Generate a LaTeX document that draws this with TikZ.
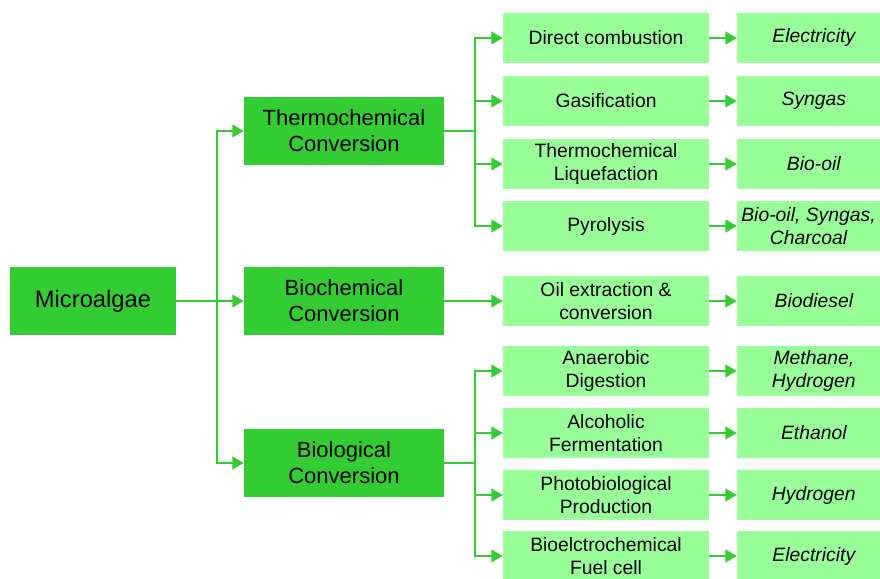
\documentclass[tikz,border=0pt]{standalone}
\usepackage{fontspec}
\setmainfont{Liberation Sans}
\usetikzlibrary{arrows.meta}
\definecolor{darkgr}{HTML}{33CC33}
\definecolor{lightgr}{HTML}{99FF99}

\begin{document}
\begin{tikzpicture}[x=0.75pt,y=-0.75pt,
  main/.style={fill=darkgr,minimum width=124.5pt,minimum height=51pt,align=center,font=\fontsize{17.8}{21}\selectfont},
  conv/.style={fill=darkgr,minimum width=150pt,minimum height=51pt,inner sep=0pt,align=center,font=\fontsize{16.5}{19.5}\selectfont},
  proc/.style={fill=lightgr,minimum width=154.5pt,minimum height=37.5pt,inner sep=0pt,align=center,font=\fontsize{14.5}{17.5}\selectfont},
  prod/.style={fill=lightgr,minimum width=107.25pt,minimum height=37.5pt,inner sep=0pt,align=center,font=\fontsize{14.5}{17.5}\selectfont\itshape},
  ln/.style={draw=darkgr,line width=1.4pt},
  arr/.style={ln,-{Triangle[length=8.5pt,width=9.5pt]}}]
\useasboundingbox (0,0) rectangle (880,578);

% source and conversion routes
\node[main] (micro) at (93,301) {Microalgae};
\node[conv] (thermo) at (344,131) {Thermochemical\\Conversion};
\node[conv] (bioch) at (344,301) {Biochemical\\Conversion};
\node[conv] (biol) at (344,463) {Biological\\Conversion};

% processes
\node[proc] (dc) at (606,38) {Direct combustion};
\node[proc] (gas) at (606,101) {Gasification};
\node[proc] (liq) at (606,164) {Thermochemical\\Liquefaction};
\node[proc] (pyr) at (606,226) {Pyrolysis};
\node[proc] (oil) at (606,301) {Oil extraction \&\\conversion};
\node[proc] (ana) at (606,371) {Anaerobic\\Digestion};
\node[proc] (alc) at (606,433) {Alcoholic\\Fermentation};
\node[proc] (pho) at (606,495) {Photobiological\\Production};
\node[proc] (bec) at (606,556) {Bioelctrochemical\\Fuel cell};

% products
\node[prod] (dcp) at (808.5,38) {\hspace{8pt}Electricity};
\node[prod] (gasp) at (808.5,101) {\hspace{8pt}Syngas};
\node[prod] (liqp) at (808.5,164) {\hspace{8pt}Bio-oil};
\node[prod] (pyrp) at (808.5,226) {Bio-oil, Syngas,\\Charcoal};
\node[prod] (oilp) at (808.5,301) {\hspace{8pt}Biodiesel};
\node[prod] (anap) at (808.5,371) {\hspace{8pt}Methane,\\\hspace{8pt}Hydrogen};
\node[prod] (alcp) at (808.5,433) {\hspace{8pt}Ethanol};
\node[prod] (phop) at (808.5,495) {\hspace{8pt}Hydrogen};
\node[prod] (becp) at (808.5,556) {\hspace{8pt}Electricity};

% connectors
\coordinate (s1) at (217,301);
\coordinate (s2) at (475,131);
\coordinate (s3) at (475,463);
\draw[arr] (micro) -- (bioch);
\draw[arr] (s1) |- (thermo);
\draw[arr] (s1) |- (biol);
\draw[arr] (bioch) -- (oil);
\draw[ln] (thermo) -- (s2);
\draw[ln] (biol) -- (s3);
\foreach \p in {dc,gas,liq,pyr} \draw[arr] (s2) |- (\p);
\foreach \p in {ana,alc,pho,bec} \draw[arr] (s3) |- (\p);
\foreach \p in {dc,gas,liq,pyr,oil,ana,alc,pho,bec} \draw[arr] (\p) -- (\p p);

\end{tikzpicture}
\end{document}
